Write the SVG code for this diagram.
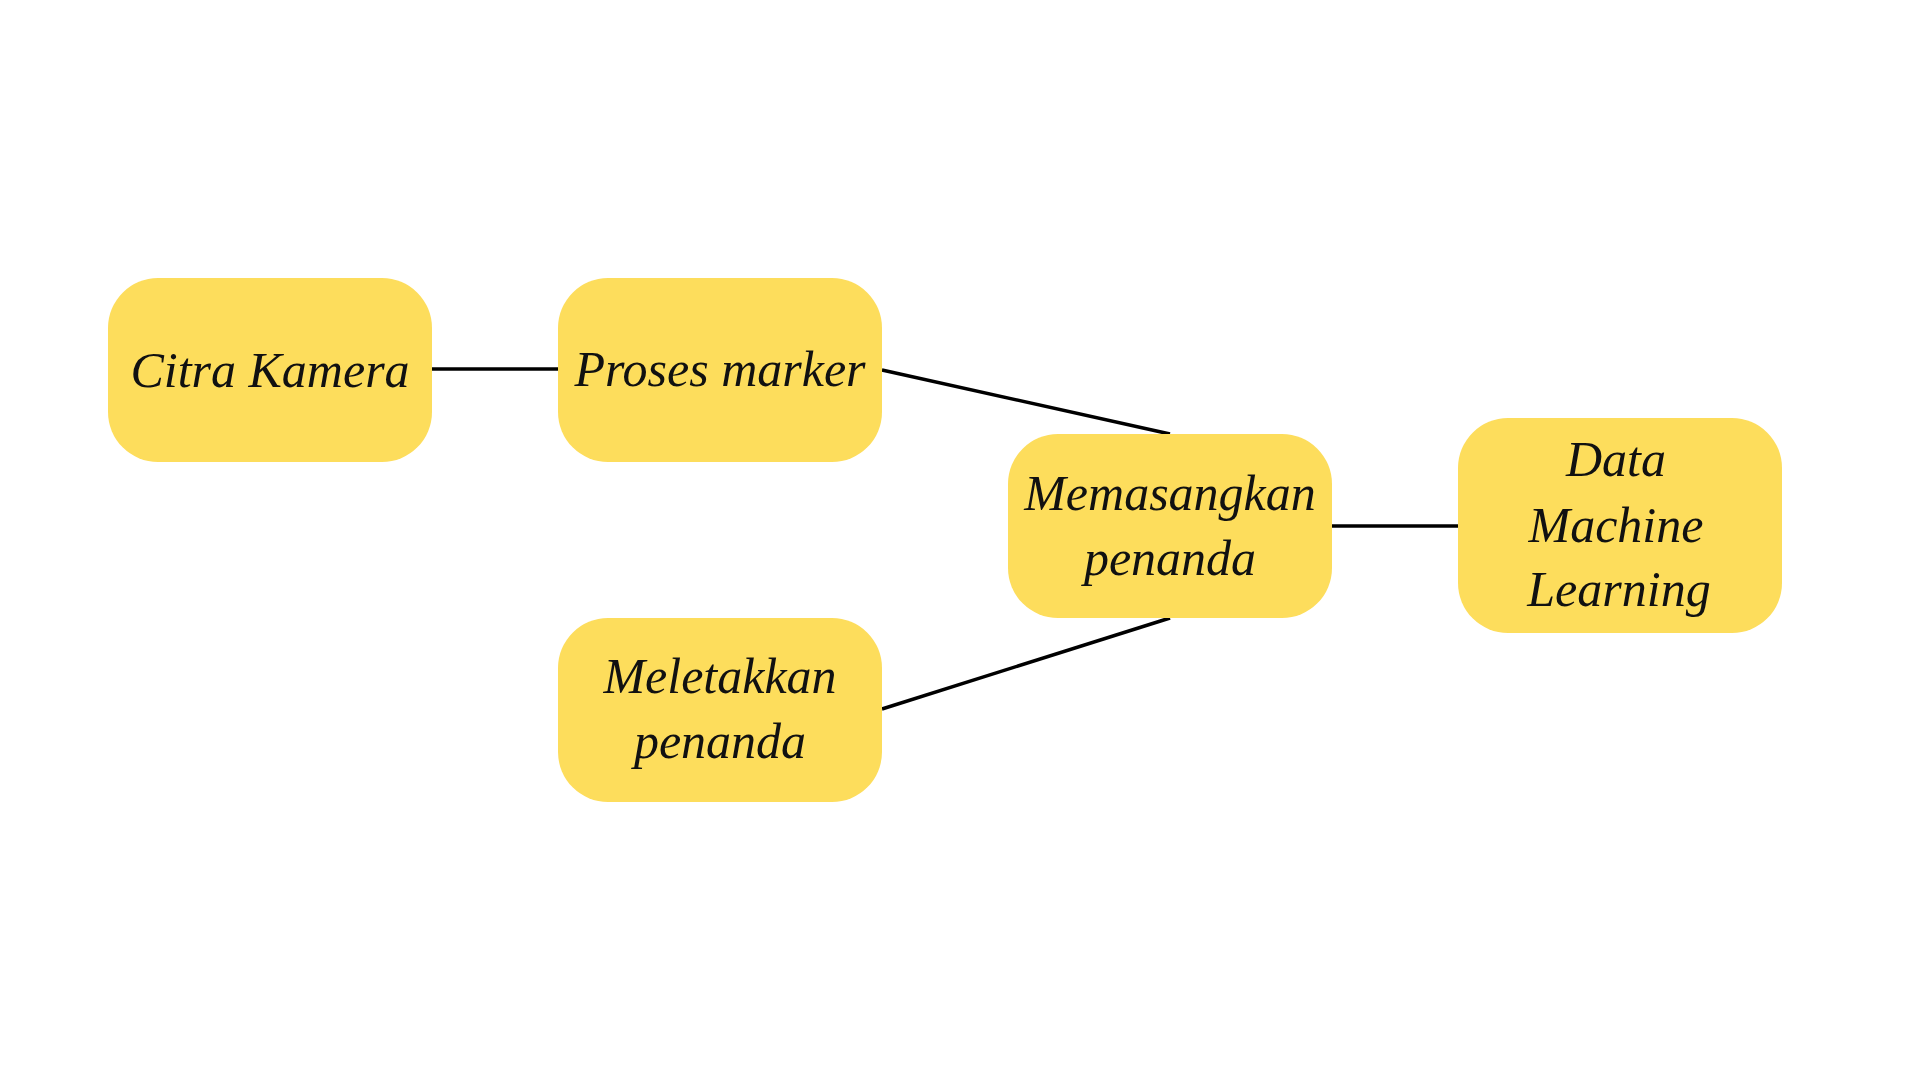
<svg xmlns="http://www.w3.org/2000/svg" width="1920" height="1080" viewBox="0 0 1920 1080">
<style>
.box{fill:#FDDD5C}
.lbl{font-family:"Liberation Serif","DejaVu Serif",serif;font-style:italic;font-size:50px;fill:#111;text-anchor:middle}
.conn line{stroke:#000;stroke-width:3.5}
</style>
<rect width="1920" height="1080" fill="#fff"/>
<g class="conn" id="connectors">
<line x1="430" y1="369" x2="560" y2="369"/>
<line x1="882" y1="370" x2="1170" y2="434"/>
<line x1="882" y1="709" x2="1170" y2="618"/>
<line x1="1330" y1="526" x2="1460" y2="526"/>
</g>
<g id="citra-kamera">
<rect class="box" x="108" y="278" width="324" height="184" rx="50"/>
<text class="lbl" x="270" y="387">Citra Kamera</text>
</g>
<g id="proses-marker">
<rect class="box" x="558" y="278" width="324" height="184" rx="50"/>
<text class="lbl" x="720" y="386">Proses marker</text>
</g>
<g id="memasangkan-penanda">
<rect class="box" x="1008" y="434" width="324" height="184" rx="50"/>
<text class="lbl" x="1170" y="510">Memasangkan</text>
<text class="lbl" x="1170" y="575">penanda</text>
</g>
<g id="meletakkan-penanda">
<rect class="box" x="558" y="618" width="324" height="184" rx="50"/>
<text class="lbl" x="720" y="693">Meletakkan</text>
<text class="lbl" x="720" y="758">penanda</text>
</g>
<g id="data-machine-learning">
<rect class="box" x="1458" y="418" width="324" height="215" rx="50"/>
<text class="lbl" x="1616" y="476">Data</text>
<text class="lbl" x="1616" y="542">Machine</text>
<text class="lbl" x="1619" y="606">Learning</text>
</g>
</svg>
